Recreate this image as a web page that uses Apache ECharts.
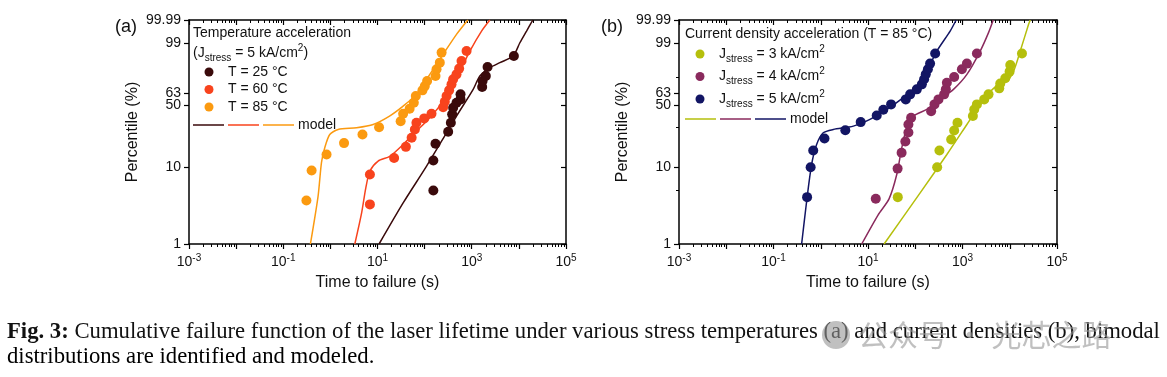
<!DOCTYPE html>
<html>
<head>
<meta charset="utf-8">
<script src="https://cdn.jsdelivr.net/npm/echarts@6/dist/echarts.min.js"></script>
<style>
  html, body { margin: 0; background: #fff; }
  #chart { width: 1167px; height: 377px; }
</style>
</head>
<body>
<div id="chart"></div>
<script>
// ---- data: [time to failure (s), percentile (%)] ----
const t25Points = [[153, 5.0], [153, 12.0], [170, 19.2], [316, 26.4], [360, 33.2], [384, 40.6], [403, 47.1], [475, 52.4], [578, 56.0], [578, 61.6], [1663, 69.8], [1695, 76.2], [1991, 81.2], [2165, 88.9], [7830, 95.4]];
const t60Points = [[6.9, 3.3], [6.9, 8.0], [22.5, 12.9], [40, 17.6], [53, 22.5], [62, 28], [67, 33.2], [98, 36.9], [140, 41.2], [247, 47.7], [268, 53.5], [292, 59.7], [331, 66.1], [372, 72.7], [403, 78], [475, 82.8], [540, 87.7], [607, 92.9], [776, 97.2]];
const t85Points = [[0.31, 3.7], [0.40, 9.0], [0.83, 14.2], [1.95, 19.5], [4.8, 24.6], [10.8, 29.7], [31, 34.5], [35, 41.2], [48, 46.1], [59, 52.4], [65, 59.7], [90, 66.1], [101, 70.8], [113, 76.2], [170, 81.2], [179, 87.2], [210, 91.9], [229, 96.7]];

const t25Model = [[10.8, 1], [35, 3.45], [110, 10.2], [292, 25.7], [475, 39], [1072, 67.2], [1486, 81.2], [2423, 88.5], [3954, 91.9], [7570, 95.4], [10500, 99.0], [14550, 99.86], [19800, 99.99]];
const t60Model = [[3.3, 1], [4.57, 2.5], [5.65, 5.4], [6.87, 8.8], [10.3, 11.8], [18.2, 13.5], [35, 18.8], [67, 26.8], [129, 37.5], [247, 54.2], [475, 79.7], [912, 97.2], [1615, 99.86], [2420, 99.99]];
const t85Model = [[0.377, 1], [0.548, 4.2], [0.647, 11.3], [0.76, 17.2], [0.97, 24.6], [1.46, 28], [3.6, 29.3], [8.1, 31.8], [18, 39], [35, 48.8], [67, 61.6], [129, 82.8], [247, 96.1], [475, 99.74], [826, 99.99]];

const j3Points = [[42.7, 4.1], [291, 9.9], [325, 15.9], [576, 21.5], [666, 27.3], [783, 33.2], [1660, 39], [1770, 45.4], [2018, 50.6], [2883, 56], [3556, 61.6], [5993, 68.3], [6295, 73.5], [8035, 79], [9910, 85.2], [10260, 90.4], [18150, 96.4]];
const j4Points = [[14.6, 3.9], [42.3, 9.5], [51.4, 14.9], [61.8, 20.4], [71.6, 25.9], [71.6, 31.8], [81.7, 37.5], [217, 43.7], [255, 50.6], [310, 56], [409, 61.6], [444, 67.2], [467, 74.5], [666, 80.3], [970, 87.2], [1239, 91.3], [2018, 96.4]];
const j5Points = [[0.514, 4.1], [0.611, 9.9], [0.693, 15.9], [1.2, 22.1], [3.31, 27.5], [7.0, 33.7], [15.3, 39.6], [21.1, 45.1], [30.8, 50.6], [63, 56], [78, 61.6], [108, 67.2], [138, 72.7], [154, 78], [167, 82.8], [185, 87.2], [206, 91.3], [264, 96.4]];

const j3Model = [[21.9, 1], [127, 4.65], [467, 14.2], [1239, 31.8], [2371, 50.6], [4540, 68.3], [8730, 76.2], [12050, 85.7], [16700, 97.2], [25060, 99.97], [27220, 99.99]];
const j4Model = [[7.36, 1], [16.3, 2.4], [27.9, 3.9], [40.6, 8.0], [51.9, 17.2], [66.2, 29.3], [91.4, 39], [176, 45.4], [336, 56], [644, 67.2], [1239, 82.8], [2371, 97.2], [3556, 99.81], [4470, 99.99]];
const j5Model = [[0.394, 1], [0.502, 3.6], [0.641, 10.7], [0.818, 18.8], [1.13, 25.7], [1.84, 28], [4.89, 30.5], [11, 36], [24.9, 45.4], [56.1, 57.9], [108, 70.8], [176, 85.7], [286, 97.2], [548, 99.86], [735, 99.99]];

// ---- axis ticks ----
const percentTicks = [1, 10, 50, 63.2, 99, 99.99];
const percentLabels = ['1', '10', '50', '63', '99', '99.99'];
const percentMinorTicks = [5, 30, 80];
const timeDecades = [1e-3, 1e-2, 1e-1, 1, 10, 100, 1e3, 1e4, 1e5];
const timeLabelValues = [1e-3, 1e-1, 10, 1e3, 1e5];
const timeMinorTicks = [];
timeDecades.slice(0, -1).forEach(d => { for (let k = 2; k <= 9; k++) timeMinorTicks.push(d * k); });

const legendA = ['T = 25 °C', 'T = 60 °C', 'T = 85 °C'];
const legendB = ['3', '4', '5'];

const colors = {
  t25: '#3a0a0b', t60: '#f8431d', t85: '#fb9a10',
  j3: '#b5bf0c', j4: '#8a2a5d', j5: '#121564'
};

const FONT = '"Liberation Sans", Arial, sans-serif';
const SERIF = '"Liberation Serif", "Times New Roman", serif';

// Weibull probability scale
const weib = p => Math.log(-Math.log(1 - p / 100));
const toWeib = arr => arr.map(([t, p]) => [t, weib(p)]);
const yMin = weib(1), yMax = weib(99.99);

const labelOf = v => {
  let best = 0;
  percentTicks.forEach((p, i) => { if (Math.abs(weib(p) - v) < Math.abs(weib(percentTicks[best]) - v)) best = i; });
  return percentLabels[best];
};

const grids = [
  { left: 189, top: 20, width: 377, height: 224 },
  { left: 679, top: 20, width: 378, height: 224 }
];

const lineStyle = { color: '#000', width: 1.5 };

const xAxesFor = (g) => [
  { // bottom, labelled
    gridIndex: g, type: 'log', logBase: 10, min: 1e-3, max: 1e5, position: 'bottom',
    axisLine: { onZero: false, lineStyle },
    axisTick: { customValues: timeDecades, length: 5, lineStyle: { color: '#000', width: 1.2 } },
    axisLabel: {
      customValues: timeLabelValues, margin: 9,
      formatter: v => '{b|10}{s|' + Math.round(Math.log10(v)) + '}',
      rich: {
        b: { fontSize: 14, lineHeight: 18, fontFamily: FONT, color: '#111' },
        s: { fontSize: 10, lineHeight: 8, verticalAlign: 'top', fontFamily: FONT, color: '#111' }
      }
    },
    splitLine: { show: false },
    name: 'Time to failure (s)', nameLocation: 'middle', nameGap: 31,
    nameTextStyle: { fontSize: 16, fontFamily: FONT, color: '#111' }
  },
  { // bottom minor ticks
    gridIndex: g, type: 'log', logBase: 10, min: 1e-3, max: 1e5, position: 'bottom',
    axisLine: { show: false, onZero: false },
    axisTick: { customValues: timeMinorTicks, length: 3, lineStyle: { color: '#000', width: 1 } },
    axisLabel: { show: false }, splitLine: { show: false }
  },
  { // top mirror
    gridIndex: g, type: 'log', logBase: 10, min: 1e-3, max: 1e5, position: 'top',
    axisLine: { onZero: false, lineStyle },
    axisTick: { customValues: timeDecades, inside: true, length: 5, lineStyle: { color: '#000', width: 1.2 } },
    axisLabel: { show: false }, splitLine: { show: false }
  },
  {
    gridIndex: g, type: 'log', logBase: 10, min: 1e-3, max: 1e5, position: 'top',
    axisLine: { show: false, onZero: false },
    axisTick: { customValues: timeMinorTicks, inside: true, length: 3, lineStyle: { color: '#000', width: 1 } },
    axisLabel: { show: false }, splitLine: { show: false }
  }
];

const yAxesFor = (g, withMinor) => {
  const axes = [{
    gridIndex: g, type: 'value', min: yMin, max: yMax, position: 'left',
    axisLine: { show: true, onZero: false, lineStyle },
    axisTick: { show: true, customValues: percentTicks.map(weib), length: 5, lineStyle: { color: '#000', width: 1.2 } },
    axisLabel: { customValues: percentTicks.map(weib), formatter: labelOf, margin: 8, fontSize: 14, fontFamily: FONT, color: '#111' },
    splitLine: { show: false },
    name: 'Percentile (%)', nameLocation: 'middle', nameGap: 48, nameRotate: 90,
    nameTextStyle: { fontSize: 16, fontFamily: FONT, color: '#111' }
  }];
  if (withMinor) axes.push({
    gridIndex: g, type: 'value', min: yMin, max: yMax, position: 'left',
    axisLine: { show: false, onZero: false },
    axisTick: { show: true, customValues: percentMinorTicks.map(weib), length: 3, lineStyle: { color: '#000', width: 1 } },
    axisLabel: { show: false }, splitLine: { show: false }
  });
  axes.push({
    gridIndex: g, type: 'value', min: yMin, max: yMax, position: 'right',
    axisLine: { show: true, onZero: false, lineStyle },
    axisTick: { show: true, inside: true, customValues: percentTicks.map(weib), length: 5, lineStyle: { color: '#000', width: 1.2 } },
    axisLabel: { show: false }, splitLine: { show: false }
  });
  if (withMinor) axes.push({
    gridIndex: g, type: 'value', min: yMin, max: yMax, position: 'right',
    axisLine: { show: false, onZero: false },
    axisTick: { show: true, inside: true, customValues: percentMinorTicks.map(weib), length: 3, lineStyle: { color: '#000', width: 1 } },
    axisLabel: { show: false }, splitLine: { show: false }
  });
  return axes;
};

const scatter = (data, color, xi, yi) => ({
  type: 'scatter', xAxisIndex: xi, yAxisIndex: yi, data: toWeib(data),
  symbolSize: 10, itemStyle: { color, opacity: 1 }, z: 3
});
const model = (data, color, xi, yi) => ({
  type: 'line', xAxisIndex: xi, yAxisIndex: yi, data: toWeib(data),
  smooth: 0.25, showSymbol: false, clip: true,
  lineStyle: { color, width: 1.5 }, z: 2
});

// ---- legends, labels, caption ----
const richJ = {
  n: { fontSize: 14, lineHeight: 20, fontFamily: FONT, color: '#111' },
  sub: { fontSize: 10, lineHeight: 10, verticalAlign: 'bottom', fontFamily: FONT, color: '#111' },
  sup: { fontSize: 10, lineHeight: 10, verticalAlign: 'top', fontFamily: FONT, color: '#111' }
};
const txt = (x, y, text, extra) => ({
  type: 'text', x, y,
  style: Object.assign({ text, fontSize: 14, fontFamily: FONT, fill: '#111', verticalAlign: 'middle' }, extra || {})
});

const graphic = [
  txt(115, 27, '(a)', { fontSize: 18 }),
  txt(601, 27, '(b)', { fontSize: 18 }),
  // legend (a)
  txt(193, 33, 'Temperature acceleration'),
  txt(193, 53, '{n|(J}{sub|stress}{n| = 5 kA/cm}{sup|2}{n|)}', { rich: richJ }),
  ...legendA.map((s, i) => txt(228, 72 + i * 17.5, s)),
  ...[colors.t25, colors.t60, colors.t85].map((c, i) => ({ type: 'circle', shape: { cx: 209, cy: 72 + i * 17.5, r: 4.5 }, style: { fill: c } })),
  ...[colors.t25, colors.t60, colors.t85].map((c, i) => ({ type: 'line', shape: { x1: 193 + i * 35, y1: 125, x2: 224 + i * 35, y2: 125 }, style: { stroke: c, lineWidth: 1.5 } })),
  txt(298, 125, 'model'),
  // legend (b)
  txt(685, 34, 'Current density acceleration (T = 85 °C)'),
  ...legendB.map((s, i) => txt(719, 54 + i * 22.5, '{n|J}{sub|stress}{n| = ' + s + ' kA/cm}{sup|2}', { rich: richJ })),
  ...[colors.j3, colors.j4, colors.j5].map((c, i) => ({ type: 'circle', shape: { cx: 700, cy: 54 + i * 22.5, r: 4.5 }, style: { fill: c } })),
  ...[colors.j3, colors.j4, colors.j5].map((c, i) => ({ type: 'line', shape: { x1: 685 + i * 35, y1: 119, x2: 716 + i * 35, y2: 119 }, style: { stroke: c, lineWidth: 1.5 } })),
  txt(790, 119, 'model'),
  // caption
  txt(7, 332, '{b|Fig. 3:}{n| Cumulative failure function of the laser lifetime under various stress temperatures (a) and current densities (b), bimodal}', {
    rich: {
      b: { fontSize: 22.7, fontWeight: 'bold', fontFamily: SERIF, color: '#000' },
      n: { fontSize: 22.7, fontFamily: SERIF, color: '#000' }
    }
  }),
  txt(7, 357, 'distributions are identified and modeled.', { fontSize: 22.7, fontFamily: SERIF, fill: '#000' }),
  // watermark
  { type: 'circle', shape: { cx: 836, cy: 335, r: 14 }, style: { fill: 'rgba(150,150,150,0.6)' } },
  txt(858, 335, '公众号 · 光芯之路', { fontSize: 30, fontFamily: '"Noto Sans CJK SC", sans-serif', fill: 'rgba(150,150,150,0.6)' })
];

const chart = echarts.init(document.getElementById('chart'));
chart.setOption({
  animation: false,
  backgroundColor: '#fff',
  grid: grids.map(g => Object.assign({ outerBoundsMode: 'none' }, g)),
  xAxis: [...xAxesFor(0), ...xAxesFor(1)],
  yAxis: [...yAxesFor(0, false), ...yAxesFor(1, true)],
  series: [
    model(t25Model, colors.t25, 0, 0),
    model(t60Model, colors.t60, 0, 0),
    model(t85Model, colors.t85, 0, 0),
    scatter(t25Points, colors.t25, 0, 0),
    scatter(t60Points, colors.t60, 0, 0),
    scatter(t85Points, colors.t85, 0, 0),
    model(j3Model, colors.j3, 4, 2),
    model(j4Model, colors.j4, 4, 2),
    model(j5Model, colors.j5, 4, 2),
    scatter(j3Points, colors.j3, 4, 2),
    scatter(j4Points, colors.j4, 4, 2),
    scatter(j5Points, colors.j5, 4, 2)
  ],
  graphic
});
</script>
</body>
</html>
